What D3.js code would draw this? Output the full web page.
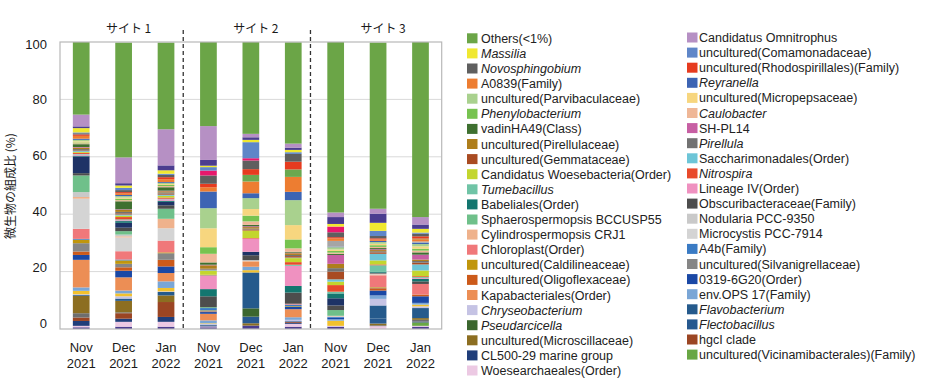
<!DOCTYPE html>
<html>
<head>
<meta charset="utf-8">
<script src="https://cdn.jsdelivr.net/npm/d3@7"></script>
<style>
  body { margin: 0; background: #fff; }
  svg { display: block; font-family: "Liberation Sans", Arial, sans-serif; }
</style>
</head>
<body>
<svg id="chart" width="935" height="386"></svg>
<script>
var sites = ["サイト 1", "サイト 2", "サイト 3"];
var months = ["Nov 2021", "Dec 2021", "Jan 2022"];
var yTicks = [0, 20, 40, 60, 80, 100];

// series in stacking order, bottom -> top
var seriesNames = [
  "unlisted 1", "Woesearchaeales(Order)", "uncultured(Vicinamibacterales)(Family)", "CL500-29 marine group",
  "hgcI clade", "unlisted 2", "uncultured(Microscillaceae)", "Flectobacillus", "Pseudarcicella",
  "Flavobacterium", "Chryseobacterium", "unlisted 3", "env.OPS 17(Family)", "Kapabacteriales(Order)",
  "0319-6G20(Order)", "uncultured(Oligoflexaceae)", "uncultured(Silvanigrellaceae)", "uncultured(Caldilineaceae)",
  "A4b(Family)", "Chloroplast(Order)", "Microcystis PCC-7914", "Cylindrospermopsis CRJ1", "Nodularia PCC-9350",
  "Sphaerospermopsis BCCUSP55", "Obscuribacteraceae(Family)", "unlisted 4", "Babeliales(Order)", "Lineage IV(Order)",
  "Tumebacillus", "Nitrospira", "Candidatus Woesebacteria(Order)", "Saccharimonadales(Order)",
  "uncultured(Gemmataceae)", "Pirellula", "uncultured(Pirellulaceae)", "SH-PL14", "vadinHA49(Class)",
  "Caulobacter", "Phenylobacterium", "uncultured(Micropepsaceae)", "uncultured(Parvibaculaceae)", "Reyranella",
  "unlisted 8", "A0839(Family)", "unlisted 7", "uncultured(Rhodospirillales)(Family)", "Novosphingobium",
  "unlisted 5", "uncultured(Comamonadaceae)", "Massilia", "unlisted 6", "Candidatus Omnitrophus", "Others(<1%)"
];

var seriesColors = [
  "#4b3d8f", "#ecc9e3", "#69a744", "#203e7a",
  "#9b4523", "#6e6e6e", "#8c6e21", "#27598f", "#3b662e",
  "#255a8c", "#c5c3e4", "#f2c12e", "#7aa6d6", "#ec8e55",
  "#1a48a5", "#cc5a1a", "#868686", "#c0960c",
  "#3a7bc4", "#f0787a", "#d4d4d4", "#efb28c", "#c9c9c9",
  "#6fc08a", "#4d4d4d", "#1e3366", "#13766f", "#ef91c0",
  "#70c4a6", "#e84a2b", "#c3d62e", "#6dc5d7",
  "#a94b22", "#727272", "#ae7e1c", "#c75fa3", "#3e7030",
  "#efb797", "#77c350", "#f7d67f", "#a9d18e", "#3d64b3",
  "#a5a5a5", "#ed7d31", "#6aa84f", "#e63b1f", "#5f5f5f",
  "#e8186c", "#5f86c8", "#f0e830", "#4b3d8f", "#b690c4", "#6ba547"
];

var italicNames = ["Massilia", "Novosphingobium", "Phenylobacterium", "Tumebacillus", "Chryseobacterium",
  "Pseudarcicella", "Reyranella", "Caulobacter", "Pirellula", "Nitrospira", "Flavobacterium", "Flectobacillus"];

var unlistedNames = ["unlisted 1", "unlisted 2", "unlisted 3", "unlisted 4",
  "unlisted 5", "unlisted 6", "unlisted 7", "unlisted 8"];

// relative abundance (%) per bar, same order as seriesNames
var site1Nov = [0.6, 0.5, 0, 1.7, 1.2, 1.5, 6.0, 0, 0, 0.3, 0.3, 1.2, 1.2, 9.6, 1.7, 1.2, 2.9, 1.2, 0.3, 3.5,
  10.5, 0.6, 1.7, 5.8, 0.8, 5.8, 0.3, 0.4, 0.2, 0.4, 0.3, 0.3, 0.2, 0.5, 0.5, 0.2, 1.0, 0.3, 0.3, 0.4,
  0.5, 0.4, 0, 1.0, 0, 0.5, 0.4, 0, 0.3, 1.5, 0.6, 4.1, 25.3];
var site1Dec = [0.8, 1.7, 0, 1.1, 1.9, 0.3, 4.0, 0, 0, 0.8, 0.8, 1.0, 1.0, 4.6, 2.3, 1.2, 1.2, 1.2, 0.3, 2.9,
  4.8, 0.4, 0.6, 1.2, 1.2, 1.7, 0.6, 0.3, 0.3, 0.8, 0.5, 0.4, 0.4, 0.5, 0.7, 0.2, 2.8, 0.4, 0.5, 0.4,
  0.5, 0.4, 0, 0.6, 0, 0.4, 0.7, 0, 0.8, 0.8, 0.8, 9.0, 40.0];
var site1Jan = [0.8, 1.7, 0, 1.7, 5.2, 0, 2.3, 0, 0, 1.2, 0.2, 1.2, 2.3, 2.9, 2.3, 2.3, 2.3, 0.3, 0, 4.1,
  4.3, 3.3, 0, 3.5, 1.2, 1.2, 0.4, 0.5, 0.2, 0.4, 0.6, 0.4, 0.4, 0.4, 0.4, 0.2, 1.2, 0.4, 0.4, 0.3,
  0.4, 0.3, 0, 1.0, 0, 0.7, 0.8, 0, 0.4, 1.2, 1.7, 12.6, 30.2];
var site2Nov = [0.6, 0.3, 0, 0.3, 0, 0, 0, 0, 0, 0.3, 0.3, 0.2, 1.0, 2.3, 0.6, 0.2, 0.2, 0.2, 0.8, 0,
  0, 0, 0, 0.3, 3.8, 0, 2.5, 4.6, 0.2, 0.2, 1.4, 0.2, 0.2, 0.3, 1.2, 0.2, 0.8, 3.0, 2.3, 6.6,
  7.0, 5.8, 0, 1.5, 0, 1.2, 2.9, 1.7, 1.2, 0.5, 2.0, 11.8, 29.3];
var site2Dec = [1.2, 0, 0, 0, 0, 0, 0.8, 2.3, 2.9, 12.5, 0, 0.8, 1.2, 1.7, 0, 0, 0, 0, 0, 0,
  0, 0.3, 0.3, 0, 1.7, 1.2, 0, 4.6, 0, 0.2, 2.6, 0, 0.4, 0.3, 0.5, 0.3, 0.5, 1.2, 2.0, 2.3,
  3.8, 1.7, 0, 4.1, 2.3, 2.0, 3.0, 0.8, 5.6, 0.8, 0.9, 1.2, 32.0];
var site2Jan = [0.8, 1.0, 0, 0.3, 0.3, 0, 0, 0, 0, 0.3, 0.5, 0, 0.9, 2.8, 0.9, 0, 0, 0.2, 0.5, 0.3,
  0, 0, 0, 0, 3.9, 0, 2.3, 7.0, 0.4, 0.9, 1.4, 0.2, 0.5, 0.4, 0.6, 0.2, 0.3, 1.2, 3.1, 5.0,
  8.7, 2.9, 0, 5.2, 2.6, 2.7, 2.7, 0, 0.6, 0.8, 0.8, 1.4, 35.3];
var site3Nov = [0.8, 0.2, 0, 0, 0, 0, 0, 0, 0, 0, 0.1, 1.8, 0.5, 0, 0.5, 0, 0, 0, 0.3, 0,
  0, 0.2, 0.2, 2.0, 1.6, 2.5, 1.7, 0, 0.6, 2.3, 1.2, 0.8, 2.7, 1.2, 1.5, 3.1, 0.4, 0.4, 0.6, 0.5,
  0.8, 0.2, 2.0, 0.9, 0, 0.4, 1.7, 2.0, 0, 0.9, 2.4, 1.6, 59.4];
var site3Dec = [0, 1.0, 0, 0, 0, 0.3, 0.6, 1.7, 0, 4.6, 2.3, 0, 1.2, 0, 1.7, 0.8, 0.2, 0.2, 0, 4.1,
  0, 0.3, 0.3, 0, 0.3, 0, 0.3, 0, 2.3, 0.3, 1.4, 2.3, 0.5, 0.4, 0.4, 0.3, 0.4, 0.4, 0.6, 0.5,
  0.6, 0.4, 0, 0.5, 0, 0.4, 0.8, 0, 1.8, 2.8, 3.2, 1.7, 57.9];
var site3Jan = [0.8, 0.3, 1.2, 0.3, 0, 0.6, 0.6, 0, 0, 3.5, 0.6, 0.6, 0.6, 0, 2.3, 0.6, 0, 0, 0, 3.7,
  0, 0, 0, 0, 0.9, 0, 0.9, 0.3, 0.3, 0.3, 2.0, 2.1, 0.6, 0.6, 0.5, 1.7, 0.8, 0.6, 0.7, 0.8,
  0.8, 0.5, 0.4, 0.8, 0.2, 0.8, 0.9, 0, 0.4, 1.3, 1.5, 2.6, 61.0];

var barValues = [site1Nov, site1Dec, site1Jan, site2Nov, site2Dec, site2Jan, site3Nov, site3Dec, site3Jan];

var categories = [];
sites.forEach(function(s) {
  months.forEach(function(m) { categories.push(s + "|" + m); });
});

// one row per bar for d3.stack
var rows = categories.map(function(cat, i) {
  var row = { cat: cat };
  seriesNames.forEach(function(name, j) { row[name] = barValues[i][j]; });
  return row;
});

var svg = d3.select("#chart");
svg.append("rect").attr("width", 935).attr("height", 386).attr("fill", "#fff");

var plotLeft = 60, plotRight = 441.7, plotTop = 42, plotBottom = 329;

var x = d3.scaleBand()
  .domain(categories)
  .range([plotLeft, plotRight])
  .paddingInner(0.606)
  .paddingOuter(0.303);

var y = d3.scaleLinear().domain([0, 100]).range([plotBottom, plotTop]);
// tick labels sit a little off the gridlines in the original
var yLabel = d3.scaleLinear().domain([0, 100]).range([323, 44]);

// gridlines
svg.append("g").selectAll("line")
  .data(yTicks.filter(function(t) { return t > 0 && t < 100; }))
  .join("line")
  .attr("x1", plotLeft).attr("x2", plotRight)
  .attr("y1", function(d) { return y(d); })
  .attr("y2", function(d) { return y(d); })
  .attr("stroke", "#d9d9d9")
  .attr("stroke-width", 1);

// stacked bars
var stacked = d3.stack().keys(seriesNames)(rows);

svg.append("g").selectAll("g")
  .data(stacked)
  .join("g")
  .attr("fill", function(d, i) { return seriesColors[i]; })
  .selectAll("rect")
  .data(function(d) { return d; })
  .join("rect")
  .attr("x", function(d) { return x(d.data.cat); })
  .attr("y", function(d) { return y(d[1]); })
  .attr("height", function(d) { return Math.max(0, y(d[0]) - y(d[1])); })
  .attr("width", x.bandwidth());

// plot frame
svg.append("rect")
  .attr("x", plotLeft).attr("y", plotTop)
  .attr("width", plotRight - plotLeft).attr("height", plotBottom - plotTop)
  .attr("fill", "none")
  .attr("stroke", "#b8b8b8")
  .attr("stroke-width", 1.2);

// y axis labels
var yAxis = svg.append("g")
  .attr("transform", "translate(47,0)")
  .call(d3.axisLeft(yLabel).tickValues(yTicks).tickSize(0).tickPadding(0));
yAxis.select(".domain").remove();
yAxis.selectAll("text")
  .attr("font-size", 13)
  .attr("font-family", "'Liberation Sans', Arial, sans-serif")
  .attr("fill", "#1a1a1a");

svg.append("text")
  .attr("transform", "translate(15,186) rotate(-90)")
  .attr("text-anchor", "middle")
  .attr("font-family", "'Noto Sans CJK JP', sans-serif")
  .attr("font-size", 12)
  .attr("fill", "#1a1a1a")
  .text("微生物の組成比 (%)");

// x labels, two lines each
var xLab = svg.append("g").selectAll("text")
  .data(categories)
  .join("text")
  .attr("text-anchor", "middle")
  .attr("font-size", 13)
  .attr("fill", "#1a1a1a");
xLab.append("tspan")
  .attr("x", function(d) { return x(d) + x.bandwidth() / 2; })
  .attr("y", 352)
  .text(function(d) { return d.split("|")[1].split(" ")[0]; });
xLab.append("tspan")
  .attr("x", function(d) { return x(d) + x.bandwidth() / 2; })
  .attr("y", 368)
  .text(function(d) { return d.split("|")[1].split(" ")[1]; });

// site titles
svg.append("g").selectAll("text")
  .data(sites)
  .join("text")
  .attr("x", function(s, i) { return x(categories[i * 3 + 1]) + x.bandwidth() / 2 + 5; })
  .attr("y", 33)
  .attr("text-anchor", "middle")
  .attr("font-family", "'Noto Sans CJK JP', sans-serif")
  .attr("font-size", 12)
  .attr("fill", "#1a1a1a")
  .text(function(s) { return s; });

// dashed separators between sites
svg.append("g").selectAll("line")
  .data([2, 5])
  .join("line")
  .attr("x1", function(i) { return (x(categories[i]) + x.bandwidth() + x(categories[i + 1])) / 2 - 4; })
  .attr("x2", function(i) { return (x(categories[i]) + x.bandwidth() + x(categories[i + 1])) / 2 - 4; })
  .attr("y1", 30).attr("y2", 330)
  .attr("stroke", "#333")
  .attr("stroke-width", 1.3)
  .attr("stroke-dasharray", "4,3");

// legend: top series first, filled row by row in two columns
var legendNames = seriesNames.slice().reverse().filter(function(n) { return unlistedNames.indexOf(n) < 0; });
var swatchX = [467, 687], textX = [481, 699], firstRowY = [38.3, 37.5], rowStep = 15.1;

var legend = svg.append("g").selectAll("g")
  .data(legendNames)
  .join("g")
  .attr("transform", function(d, i) {
    var col = i % 2, row = Math.floor(i / 2);
    return "translate(0," + (firstRowY[col] + row * rowStep) + ")";
  });

legend.append("rect")
  .attr("x", function(d, i) { return swatchX[i % 2]; })
  .attr("y", -5)
  .attr("width", 10.5)
  .attr("height", 10)
  .attr("fill", function(d) { return seriesColors[seriesNames.indexOf(d)]; });

legend.append("text")
  .attr("x", function(d, i) { return textX[i % 2]; })
  .attr("y", 4.5)
  .attr("font-size", 12.5)
  .attr("fill", "#222")
  .attr("font-style", function(d) { return italicNames.indexOf(d) >= 0 ? "italic" : "normal"; })
  .text(function(d) { return d; });
</script>
</body>
</html>
